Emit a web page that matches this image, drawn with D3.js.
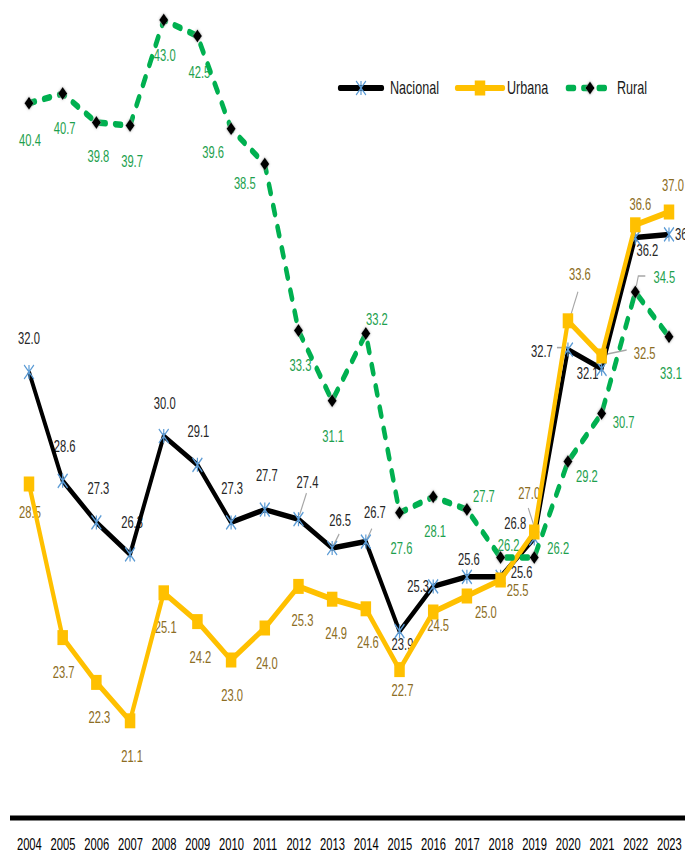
<!DOCTYPE html>
<html><head><meta charset="utf-8">
<script src="https://cdn.jsdelivr.net/npm/d3@7"></script>
<style>html,body{margin:0;padding:0;background:#fff;overflow:hidden}</style>
</head><body><svg id="c" width="685" height="853"></svg>
<script>
// ---------- data ----------
const years = [2004,2005,2006,2007,2008,2009,2010,2011,2012,2013,2014,2015,2016,2017,2018,2019,2020,2021,2022,2023];
const nacional = [32.0,28.6,27.3,26.3,30.0,29.1,27.3,27.7,27.4,26.5,26.7,23.9,25.3,25.6,25.6,26.8,32.7,32.1,36.2,36.3];
const urbana   = [28.5,23.7,22.3,21.1,25.1,24.2,23.0,24.0,25.3,24.9,24.6,22.7,24.5,25.0,25.5,27.0,33.6,32.5,36.6,37.0];
const rural    = [40.4,40.7,39.8,39.7,43.0,42.5,39.6,38.5,33.3,31.1,33.2,27.6,28.1,27.7,26.2,26.2,29.2,30.7,34.5,33.1];
const seriesNames = ["Nacional","Urbana","Rural"];

// ---------- label layout (screen px offsets from the point) ----------
const nacLabelOff = [[0,-34],[2,-34],[2,-34],[2,-32],[1,-33],[1,-33],[1,-34],[2,-34],[9,-37],[8,-28],[9,-29],[3,13],[-15,0],[2,-17],[21,-4],[-19,-15],[-26,2],[-14,5],[12,13],[17,0]];
const urbLabelOff = [[1,28],[1,35],[3,35],[2,36],[2,35],[3,36],[1,35],[2,35],[4,34],[4,34],[2,34],[3,21],[5,13],[19,16],[17,10],[-5,-39],[12,-46],[43,-3],[5,-20],[4,-27]];
const rurLabelOff = [[1,37],[2,35],[2,34],[2,36],[1,35],[2,36],[-18,24],[-20,19],[2,35],[1,36],[11,-14],[2,36],[2,35],[17,-13],[8,-12],[24,-9],[19,15],[22,9],[29,-15],[2,37]];
// leader lines: [series, index, [[dx,dy],...]]
const leaders = [
  [0,8,[[1,-4],[8,-26]]],
  [0,9,[[1,-2],[7,-14]]],
  [0,10,[[1,-2],[6,-13]]],
  [0,16,[[-11,-2],[-1,-2]]],
  [1,15,[[1,-2],[-6,-24]]],
  [1,16,[[2,-3],[10,-29]]],
  [1,17,[[1,-1],[25,-6]]],
  [2,18,[[1,-6],[3,-16],[10,-16]]]
];

// ---------- setup ----------
const SX = 0.7;           // horizontal compression of the original picture
const svg = d3.select("#c");
const defs = svg.append("defs");
const f = defs.append("filter").attr("id","glow").attr("x","-50%").attr("y","-50%").attr("width","200%").attr("height","200%");
f.append("feDropShadow").attr("dx",0).attr("dy",0).attr("stdDeviation",1.4).attr("flood-color","#999").attr("flood-opacity",0.9);

const g = svg.append("g").attr("transform",`scale(${SX},1)`);
const x = d3.scalePoint().domain(years).range([29/SX, 669/SX]);
const y = d3.scaleLinear().domain([20,45]).range([756,-44]);
const fmt = d3.format(".1f");
const FONT = "'Liberation Sans', Arial, sans-serif";

const colors = {Nacional:"#000000", Urbana:"#FFC000", Rural:"#00B050"};
const labelColors = {Nacional:"#262626", Urbana:"#8C6D23", Rural:"#1E9F4E"};
const allSeries = [
  {name:"Nacional", values:nacional, off:nacLabelOff},
  {name:"Urbana", values:urbana, off:urbLabelOff},
  {name:"Rural", values:rural, off:rurLabelOff}
];

// ---------- axis ----------
g.append("line").attr("x1",10/SX).attr("x2",685/SX).attr("y1",818).attr("y2",818)
  .attr("stroke","#000").attr("stroke-width",5);
const axis = d3.axisBottom(x).tickSize(0).tickPadding(0).tickFormat(d3.format("d"));
const ax = g.append("g").attr("transform","translate(0,844)").call(axis);
ax.select(".domain").remove();
ax.selectAll("text").attr("y",0).attr("dy","0.35em")
  .style("font-family",FONT).style("font-size","16px").style("font-weight","normal").attr("fill","#000");

// ---------- labels (drawn under the lines) ----------
allSeries.forEach(s=>{
  g.append("g").selectAll("text").data(s.values).join("text")
    .attr("x",(d,i)=>x(years[i]) + s.off[i][0]/SX)
    .attr("y",(d,i)=>y(d) + s.off[i][1])
    .attr("dy","0.35em").attr("text-anchor","middle")
    .style("font-family",FONT).style("font-size","16px")
    .attr("fill",labelColors[s.name])
    .text(d=>fmt(d));
});
g.append("g").selectAll("path").data(leaders).join("path")
  .attr("d",l=>{
    const s = allSeries[l[0]], i=l[1];
    const px = x(years[i]), py = y(s.values[i]);
    return d3.line()(l[2].map(p=>[px+p[0]/SX, py+p[1]]));
  })
  .attr("fill","none").attr("stroke","#A6A6A6").attr("stroke-width",1.6);

// ---------- markers ----------
function star(sel,h){ // asterisk (X with vertical bar)
  sel.append("path").attr("d",`M${-h},${-h}L${h},${h}M${-h},${h}L${h},${-h}M0,${-h}L0,${h}`)
    .attr("stroke","#5B9BD5").attr("stroke-width",1.7).attr("fill","none");
}
function square(sel,h,c){ sel.append("rect").attr("x",-h).attr("y",-h).attr("width",2*h).attr("height",2*h).attr("fill",c); }
function diamond(sel,h){ sel.append("path").attr("d",`M0,${-h}L${h},0L0,${h}L${-h},0Z`).attr("fill","#000").attr("filter","url(#glow)"); }

const line = d3.line().x((d,i)=>x(years[i])).y(d=>y(d));

// Nacional
g.append("path").datum(nacional).attr("d",line).attr("fill","none")
  .attr("stroke",colors.Nacional).attr("stroke-width",5.5).attr("stroke-linejoin","round");
g.append("g").selectAll("g").data(nacional).join("g")
  .attr("transform",(d,i)=>`translate(${x(years[i])},${y(d)})`).each(function(){star(d3.select(this),7);});
// Urbana
g.append("path").datum(urbana).attr("d",line).attr("fill","none")
  .attr("stroke",colors.Urbana).attr("stroke-width",6).attr("stroke-linejoin","round");
g.append("g").selectAll("g").data(urbana).join("g")
  .attr("transform",(d,i)=>`translate(${x(years[i])},${y(d)})`).each(function(){square(d3.select(this),7.5,colors.Urbana);});
// Rural
g.append("path").datum(rural).attr("d",line).attr("fill","none")
  .attr("stroke",colors.Rural).attr("stroke-width",6.5).attr("stroke-dasharray","8.5,13.5").attr("stroke-linecap","round");
g.append("g").selectAll("g").data(rural).join("g")
  .attr("transform",(d,i)=>`translate(${x(years[i])},${y(d)})`).each(function(){diamond(d3.select(this),6.5);});

// ---------- legend ----------
const legendItems = [
  {name:seriesNames[0], x0:340, x1:382, tx:390},
  {name:seriesNames[1], x0:457, x1:503, tx:507},
  {name:seriesNames[2], x0:568, x1:612, tx:617}
];
const LY = 88;
const lg = g.append("g");
legendItems.forEach(it=>{
  const p = lg.append("line").attr("x1",it.x0/SX).attr("x2",it.x1/SX).attr("y1",LY).attr("y2",LY)
    .attr("stroke",colors[it.name]).attr("stroke-linecap","round");
  const m = lg.append("g").attr("transform",`translate(${(it.x0+it.x1)/2/SX},${LY})`);
  if(it.name==="Nacional"){ p.attr("stroke-width",6); star(m,7); }
  else if(it.name==="Urbana"){ p.attr("stroke-width",6); square(m,7.5,colors.Urbana); }
  else { p.attr("stroke-width",6.5).attr("stroke-dasharray","8.5,13.5"); diamond(m,6.5); }
  lg.append("text").attr("x",it.tx/SX).attr("y",LY).attr("dy","0.35em")
    .style("font-family",FONT).style("font-size","18px").attr("fill","#1a1a1a").text(it.name);
});
</script></body></html>
